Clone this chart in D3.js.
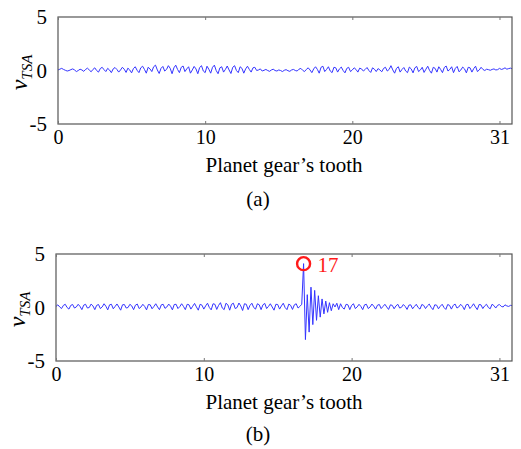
<!DOCTYPE html>
<html>
<head>
<meta charset="utf-8">
<script src="https://cdn.jsdelivr.net/npm/d3@7"></script>
<style>
  body { margin: 0; background: #fff; }
  text { font-family: "Liberation Serif", "Times New Roman", serif; }
</style>
</head>
<body>
<div id="chart"></div>
<script>
// sample spacing along the tooth axis (8 samples per tooth)
var sampleStep = 0.125;

var xTicks = [0, 10, 20, 30];
var xTickLabels = ["0", "10", "20", "31"];
var yTicks = [5, 0, -5];
var yTickLabels = ["5", "0", "-5"];

// (a) healthy gear
var seriesA = [
  0.05,0.12,0.2,0.1,0.02,-0.05,0.0,0.08,
  0.15,0.05,-0.1,0.0,0.12,0.05,-0.08,0.1,
  0.22,0.05,-0.12,0.1,0.25,0.0,-0.15,0.18,
  0.3,0.08,-0.1,0.2,0.05,-0.2,0.15,0.28,
  0.1,-0.15,0.05,0.3,0.12,-0.18,0.22,0.05,
  -0.22,0.18,0.35,0.02,-0.2,0.25,0.4,0.1,
  -0.25,0.3,0.15,-0.1,0.35,0.5,0.05,-0.28,
  0.2,0.38,-0.05,0.1,0.45,0.2,-0.3,0.25,
  0.5,0.1,-0.2,0.3,0.42,-0.1,0.15,0.35,
  -0.25,0.05,0.38,0.15,-0.3,0.28,0.45,-0.05,
  -0.2,0.4,0.12,-0.25,0.3,0.5,0.0,-0.3,
  0.25,0.35,-0.15,0.1,0.42,0.05,-0.28,0.3,
  0.45,0.0,-0.2,0.35,0.2,-0.25,0.15,0.4,
  0.1,-0.15,0.25,0.3,0.0,0.05,0.15,-0.05,
  0.02,0.1,0.0,-0.08,0.05,0.12,0.0,-0.05,
  0.05,0.0,-0.1,0.02,0.08,-0.02,-0.08,0.05,
  0.1,0.0,-0.05,0.12,0.2,0.02,-0.1,0.1,
  0.25,0.05,-0.2,0.15,0.35,0.1,-0.25,0.3,
  0.4,-0.1,0.1,0.35,-0.05,-0.2,0.3,0.25,
  -0.15,0.15,0.32,0.0,-0.22,0.2,0.3,-0.1,
  0.05,0.25,0.1,-0.15,0.22,0.15,-0.05,0.1,
  0.28,0.0,-0.18,0.25,0.12,-0.1,0.18,0.05,
  -0.12,0.2,0.3,-0.05,0.1,0.45,0.05,-0.25,
  0.2,0.35,-0.15,0.1,0.28,-0.05,-0.2,0.32,
  0.15,-0.22,0.25,0.38,-0.1,0.05,0.3,-0.18,
  0.12,0.4,0.0,-0.25,0.3,0.2,-0.15,0.35,
  0.1,-0.2,0.28,0.42,-0.05,0.1,0.35,-0.2,
  0.2,0.38,-0.12,0.05,0.32,0.15,-0.22,0.3,
  0.25,-0.15,0.18,0.4,-0.1,0.05,0.3,0.1,
  0.0,0.12,0.08,0.02,0.1,0.15,0.05,0.08,
  0.2,0.1,0.15,0.25,0.12,0.18,0.22,0.15
];

// (b) faulty gear, impulse at tooth 17
var seriesB = [
  0.1,0.25,0.05,-0.1,0.2,0.3,0.0,-0.15,
  0.2,0.28,-0.05,0.05,0.3,0.1,-0.2,0.22,
  0.3,-0.05,0.0,0.32,0.15,-0.2,0.2,0.28,
  -0.1,0.05,0.35,0.12,-0.22,0.25,0.3,-0.12,
  0.1,0.33,0.05,-0.25,0.25,0.28,-0.05,0.0,
  0.3,0.15,-0.2,0.22,0.32,-0.1,0.05,0.3,
  0.1,-0.22,0.28,0.25,-0.12,0.1,0.35,0.05,
  -0.2,0.25,0.3,-0.08,0.05,0.32,0.12,-0.22,
  0.28,0.3,-0.1,0.08,0.35,0.1,-0.2,0.3,
  0.25,-0.15,0.12,0.38,0.05,-0.25,0.3,0.22,
  -0.15,0.15,0.4,0.0,-0.22,0.35,0.3,-0.18,
  0.2,0.45,-0.05,-0.2,0.4,0.25,-0.25,0.3,
  0.4,-0.1,0.0,0.42,0.15,-0.28,0.35,0.3,
  -0.2,0.2,0.4,0.0,-0.15,0.35,0.25,-0.2,
  0.25,0.38,-0.1,0.1,0.35,0.05,-0.25,0.3,
  0.28,-0.15,0.15,0.4,0.0,-0.2,0.32,0.2,
  -0.18,0.25,0.35,-0.05,0.1,0.3,4.1,-3.0,
  1.2,-2.3,1.9,-1.6,1.6,-1.2,1.1,-0.9,
  0.8,-0.6,0.6,-0.45,0.45,-0.3,0.35,0.05,
  0.4,-0.2,0.35,0.0,-0.15,0.3,0.25,-0.2,
  0.2,0.35,-0.1,0.05,0.3,0.1,-0.2,0.25,
  0.3,-0.1,0.05,0.32,0.12,-0.15,0.22,0.28,
  -0.1,0.1,0.3,0.05,-0.18,0.25,0.2,-0.12,
  0.15,0.3,-0.05,0.02,0.28,0.1,-0.18,0.22,
  0.25,-0.12,0.1,0.3,0.0,-0.15,0.28,0.2,
  -0.1,0.15,0.32,0.02,-0.2,0.25,0.22,-0.12,
  0.12,0.3,0.0,-0.18,0.28,0.2,-0.15,0.2,
  0.32,-0.05,0.05,0.3,0.12,-0.2,0.25,0.3,
  -0.1,0.1,0.35,0.05,-0.2,0.28,0.25,-0.1,
  0.15,0.3,0.0,-0.12,0.3,0.18,-0.05,0.2,
  0.28,0.1,0.05,0.25,0.15,0.1,0.2,0.18
];

var W = 521, H = 449;
var svg = d3.select("#chart").append("svg")
  .attr("width", W).attr("height", H);

var panels = [
  {data: seriesA, left: 58, right: 512, top: 17, bottom: 124, tag: "(a)", tagY: 206, xlabY: 172, mark: false},
  {data: seriesB, left: 56, right: 512, top: 254, bottom: 361, tag: "(b)", tagY: 441, xlabY: 409, mark: true}
];

panels.forEach(function(p, k) {
  var x = d3.scaleLinear().domain([0, 30.85]).range([p.left, p.right]);
  var y = d3.scaleLinear().domain([-5, 5]).range([p.bottom, p.top]);
  var g = svg.append("g");

  g.append("clipPath").attr("id", "clip" + k)
    .append("rect")
      .attr("x", p.left).attr("y", p.top)
      .attr("width", p.right - p.left).attr("height", p.bottom - p.top);

  var line = d3.line()
    .x(function(d, i) { return x(i * sampleStep); })
    .y(function(d) { return y(d); });

  g.append("path")
    .datum(p.data)
    .attr("clip-path", "url(#clip" + k + ")")
    .attr("fill", "none")
    .attr("stroke", "#3434ff")
    .attr("stroke-width", 1)
    .attr("d", line);

  // box
  g.append("rect")
    .attr("x", p.left).attr("y", p.top)
    .attr("width", p.right - p.left).attr("height", p.bottom - p.top)
    .attr("fill", "none").attr("stroke", "#555").attr("stroke-width", 1.2);

  // bottom axis, ticks inward
  var xb = g.append("g")
    .attr("transform", "translate(0," + p.bottom + ")")
    .call(d3.axisBottom(x).tickValues(xTicks).tickSizeInner(-3).tickSizeOuter(0)
      .tickPadding(6).tickFormat(function(d, i) { return xTickLabels[i]; }));
  xb.select(".domain").remove();
  xb.selectAll("line").attr("stroke", "#777");
  xb.selectAll("text").attr("font-size", 20).attr("fill", "#000")
    .attr("font-family", "Liberation Serif");

  // top ticks
  g.append("g")
    .attr("transform", "translate(0," + p.top + ")")
    .call(d3.axisTop(x).tickValues(xTicks).tickSizeInner(-3).tickSizeOuter(0).tickFormat(""))
    .call(function(s) { s.select(".domain").remove(); s.selectAll("line").attr("stroke", "#777"); });

  // left axis
  var yl = g.append("g")
    .attr("transform", "translate(" + p.left + ",0)")
    .call(d3.axisLeft(y).tickValues(yTicks).tickSizeInner(0).tickSizeOuter(0)
      .tickPadding(11).tickFormat(function(d, i) { return yTickLabels[i]; }));
  yl.select(".domain").remove();
  yl.selectAll("text").attr("font-size", 21).attr("fill", "#000")
    .attr("font-family", "Liberation Serif");

  // y label
  var ly = g.append("text")
    .attr("transform", "translate(" + (p.left - 31) + "," + (y(0) + 2) + ") rotate(-90)")
    .attr("text-anchor", "middle")
    .attr("fill", "#000");
  ly.append("tspan").attr("font-style", "italic").attr("font-size", 24).text("v");
  ly.append("tspan").attr("font-style", "italic").attr("font-size", 15)
    .attr("dy", 5).text("TSA");

  // x label
  g.append("text")
    .attr("x", 284)
    .attr("y", p.xlabY)
    .attr("text-anchor", "middle")
    .attr("font-size", 21)
    .attr("fill", "#000")
    .text("Planet gear\u2019s tooth");

  g.append("text")
    .attr("x", 258).attr("y", p.tagY)
    .attr("text-anchor", "middle")
    .attr("font-size", 21)
    .attr("fill", "#000")
    .text(p.tag);

  if (p.mark) {
    var peak = d3.maxIndex(p.data);
    var cx = x(peak * sampleStep), cy = y(p.data[peak]);
    g.append("circle")
      .attr("cx", cx).attr("cy", cy).attr("r", 6.5)
      .attr("fill", "none").attr("stroke", "#ff1a1a").attr("stroke-width", 2.4);
    g.append("text")
      .attr("x", cx + 14).attr("y", cy + 8)
      .attr("font-size", 21)
      .attr("fill", "#ff1a1a")
      .text(String(Math.round(peak * sampleStep)));
  }
});
</script>
</body>
</html>
